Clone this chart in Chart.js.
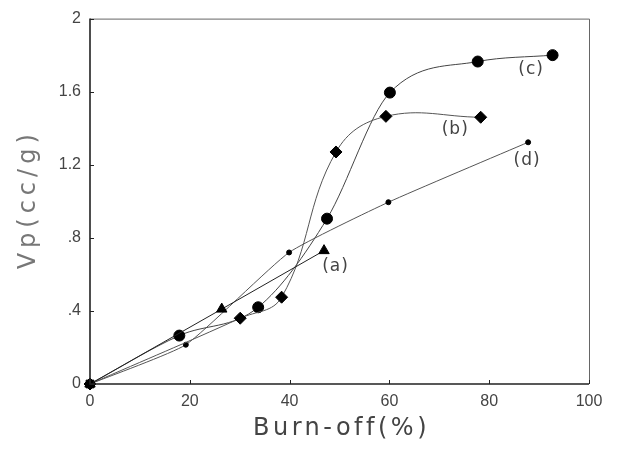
<!DOCTYPE html>
<html>
<head>
<meta charset="utf-8">
<script src="https://cdn.jsdelivr.net/npm/chart.js@4"></script>
<style>
  html, body { margin: 0; padding: 0; background: #fff; }
  #wrap { width: 620px; height: 451px; }
</style>
</head>
<body>
<div id="wrap"><canvas id="chart" width="620" height="451"></canvas></div>
<script>
// values (burn-off %, Vp cc/g)
const seriesA = [ { x: 0, y: 0 }, { x: 26.4, y: 0.41 }, { x: 46.9, y: 0.73 } ];
const seriesB = [ { x: 0, y: 0 }, { x: 30.1, y: 0.36 }, { x: 38.4, y: 0.475 }, { x: 49.3, y: 1.27 }, { x: 59.3, y: 1.465 }, { x: 78.3, y: 1.46 } ];
const seriesC = [ { x: 0, y: 0 }, { x: 17.9, y: 0.265 }, { x: 33.7, y: 0.42 }, { x: 47.5, y: 0.905 }, { x: 60.1, y: 1.595 }, { x: 77.7, y: 1.765 }, { x: 92.7, y: 1.8 } ];
const seriesD = [ { x: 0, y: 0 }, { x: 19.2, y: 0.215 }, { x: 39.9, y: 0.72 }, { x: 59.8, y: 0.995 }, { x: 87.8, y: 1.323 } ];

const xTicks = [0, 20, 40, 60, 80, 100];
const yTicks = [0, 0.4, 0.8, 1.2, 1.6, 2];
const yTickLabels = ['0', '.4', '.8', '1.2', '1.6', '2'];

const xTitle = 'Burn-off(%)';
const yTitle = 'Vp(cc/g)';

// curve labels, placed in data units
const curveLabels = [
    { text: '(a)', x: 49.2, y: 0.64 },
    { text: '(b)', x: 73.2, y: 1.395 },
    { text: '(c)', x: 88.4, y: 1.72 },
    { text: '(d)', x: 87.6, y: 1.225 }
];

const FONT = '"Liberation Sans", "DejaVu Sans", sans-serif';
const WIDE = '"DejaVu Sans", sans-serif';

// frame, inward ticks, curve labels and axis titles
const framePlugin = {
    id: 'frame',
    afterDatasetsDraw(chart) {
        const { ctx, chartArea: a, scales } = chart;
        ctx.save();
        ctx.strokeStyle = '#666';
        ctx.lineWidth = 1;
        ctx.beginPath();
        ctx.moveTo(a.left, a.top + 0.5);
        ctx.lineTo(a.right + 0.5, a.top + 0.5);
        ctx.lineTo(a.right + 0.5, a.bottom);
        ctx.stroke();

        ctx.strokeStyle = '#222';
        ctx.lineWidth = 1.6;
        ctx.beginPath();
        ctx.moveTo(a.left, a.top);
        ctx.lineTo(a.left, a.bottom);
        ctx.lineTo(a.right, a.bottom);
        ctx.stroke();

        ctx.lineWidth = 1;
        ctx.beginPath();
        yTicks.forEach(v => {
            const py = Math.round(scales.y.getPixelForValue(v)) + 0.5;
            ctx.moveTo(a.left, py);
            ctx.lineTo(a.left + 4, py);
        });
        xTicks.forEach(v => {
            const px = Math.round(scales.x.getPixelForValue(v)) + 0.5;
            ctx.moveTo(px, a.bottom);
            ctx.lineTo(px, a.bottom - 4);
        });
        ctx.stroke();

        ctx.fillStyle = '#444';
        ctx.textAlign = 'center';
        ctx.textBaseline = 'middle';
        ctx.font = '17px ' + WIDE;
        ctx.letterSpacing = '1px';
        curveLabels.forEach(l => {
            ctx.fillText(l.text, scales.x.getPixelForValue(l.x), scales.y.getPixelForValue(l.y));
        });

        // axis titles, spaced out like the original lettering
        ctx.fillStyle = '#444';
        ctx.font = '24px ' + WIDE;
        ctx.letterSpacing = '3.5px';
        ctx.fillText(xTitle, (a.left + a.right) / 2 + 2, 429);
        ctx.fillStyle = '#777';
        ctx.translate(29, (a.top + a.bottom) / 2);
        ctx.rotate(-Math.PI / 2);
        ctx.letterSpacing = '5px';
        ctx.fillText(yTitle, 2, 0);
        ctx.restore();
    }
};

function lineSet(label, data, style, radius, color, tension, mode) {
    return {
        label: label,
        data: data,
        borderColor: color,
        borderWidth: 1,
        backgroundColor: '#000',
        pointBackgroundColor: '#000',
        pointBorderColor: '#000',
        pointStyle: style,
        pointRadius: radius,
        tension: tension,
        cubicInterpolationMode: mode,
        clip: false,
        fill: false
    };
}

new Chart(document.getElementById('chart'), {
    type: 'line',
    data: {
        datasets: [
            lineSet('(a)', seriesA, 'triangle', 6, '#222', 0, 'default'),
            lineSet('(b)', seriesB, 'rectRot', 6, '#555', 0.4, 'default'),
            lineSet('(c)', seriesC, seriesC.map((p, i) => i === 0 ? 'rect' : 'circle'), 5.5, '#444', 0.4, 'monotone'),
            lineSet('(d)', seriesD, 'circle', 2.5, '#555', 0.15, 'default')
        ]
    },
    options: {
        responsive: false,
        animation: false,
        layout: { padding: { top: 14, right: 31, left: 0, bottom: 0 } },
        plugins: {
            legend: { display: false },
            tooltip: { enabled: false }
        },
        scales: {
            x: {
                type: 'linear',
                min: 0,
                max: 100,
                afterFit(scale) { scale.height = 67; },
                afterBuildTicks(scale) { scale.ticks = xTicks.map(v => ({ value: v })); },
                grid: { display: false, drawTicks: false },
                border: { display: false },
                ticks: {
                    color: '#444',
                    font: { family: FONT, size: 16 },
                    padding: 8
                }
            },
            y: {
                type: 'linear',
                min: 0,
                max: 2,
                afterFit(scale) { scale.width = 90; },
                afterBuildTicks(scale) { scale.ticks = yTicks.map(v => ({ value: v })); },
                grid: { display: false, drawTicks: false },
                border: { display: false },
                ticks: {
                    color: '#444',
                    font: { family: FONT, size: 16 },
                    padding: 9,
                    callback: function(value) {
                        const i = yTicks.indexOf(value);
                        return i >= 0 ? yTickLabels[i] : '';
                    }
                }
            }
        }
    },
    plugins: [framePlugin]
});
</script>
</body>
</html>
